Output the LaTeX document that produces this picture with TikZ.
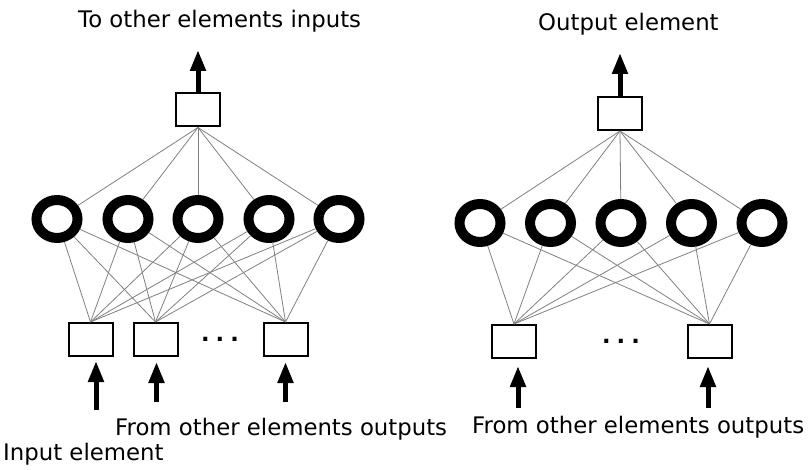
\documentclass[tikz,border=0pt]{standalone}
\usepackage{fontspec}
\setmainfont{DejaVu Sans}
\usetikzlibrary{arrows.meta,shapes.geometric}
\begin{document}
\begin{tikzpicture}[x=1pt,y=-1pt,
 box/.style={draw,line width=2pt,minimum width=44pt,minimum height=33pt,inner sep=0pt},
 ring/.style={draw,ellipse,line width=10pt,minimum width=41pt,minimum height=38pt,inner sep=0pt},
 link/.style={draw=black!50,line width=0.8pt},
 bigarrow/.style={line width=5pt,-{Triangle[width=15pt,length=21pt]}},
 lbl/.style={font=\fontsize{22.8}{26}\selectfont,inner sep=0pt,anchor=base west},
 dots/.style={font=\fontsize{22.5}{26}\selectfont\bfseries,inner sep=0pt,anchor=base}
]
\useasboundingbox (0,0) rectangle (808,470);

% ---------- left network ----------
\node[box] (ltop) at (198,110) {};
\foreach \i/\x in {1/57,2/128,3/198,4/269,5/339}
  \node[ring] (lc\i) at (\x,219) {};
\node[box] (lb1) at (90.5,339.5) {};
\node[box] (lb2) at (155.5,339.5) {};
\node[box] (lb3) at (285.5,339.5) {};
\node[dots] (ldots) at (220,341) {.\hskip6pt.\hskip6pt.};

\foreach \i in {1,...,5} {
  \draw[link] (ltop.south) -- (lc\i);
  \foreach \j in {1,2,3}
    \draw[link] (lb\j.north) -- (lc\i);
}

\coordinate (ltip) at (198,50);
\draw[bigarrow] (ltop.north) -- (ltip);
\coordinate (la1) at (96,410);
\coordinate (la2) at (156.5,402);
\coordinate (la3) at (285.5,402);
\draw[bigarrow,shorten >=4pt] (la1) -- (la1 |- lb1.south);
\draw[bigarrow,shorten >=5pt] (la2) -- (la2 |- lb2.south);
\draw[bigarrow,shorten >=5pt] (la3) -- (lb3.south);

\node[lbl] (ltxt) at (78,28) {To other elements inputs};
\node[lbl] (lfrom) at (115,435) {From other elements outputs};
\node[lbl] (lin) at (3,460) {Input element};

% ---------- right network ----------
\node[box] (rtop) at (620,113.5) {};
\foreach \i/\x in {1/480,2/550.5,3/621,4/691.5,5/762}
  \node[ring] (rc\i) at (\x,223) {};
\node[box] (rb1) at (514,341.5) {};
\node[box] (rb2) at (709.5,341.5) {};
\node[dots] (rdots) at (621,343) {.\hskip6pt.\hskip6pt.};

\foreach \i in {1,...,5} {
  \draw[link] (rtop.south) -- (rc\i);
  \foreach \j in {1,2}
    \draw[link] (rb\j.north) -- (rc\i);
}

\coordinate (rtip) at (620,53);
\draw[bigarrow] (rtop.north) -- (rtip);
\coordinate (ra1) at (518,408);
\coordinate (ra2) at (708,408);
\draw[bigarrow,shorten >=7pt] (ra1) -- (ra1 |- rb1.south);
\draw[bigarrow,shorten >=7pt] (ra2) -- (ra2 |- rb2.south);

\node[lbl] (rtxt) at (538,31) {Output element};
\node[lbl] (rfrom) at (472,433) {From other elements outputs};
\end{tikzpicture}
\end{document}
